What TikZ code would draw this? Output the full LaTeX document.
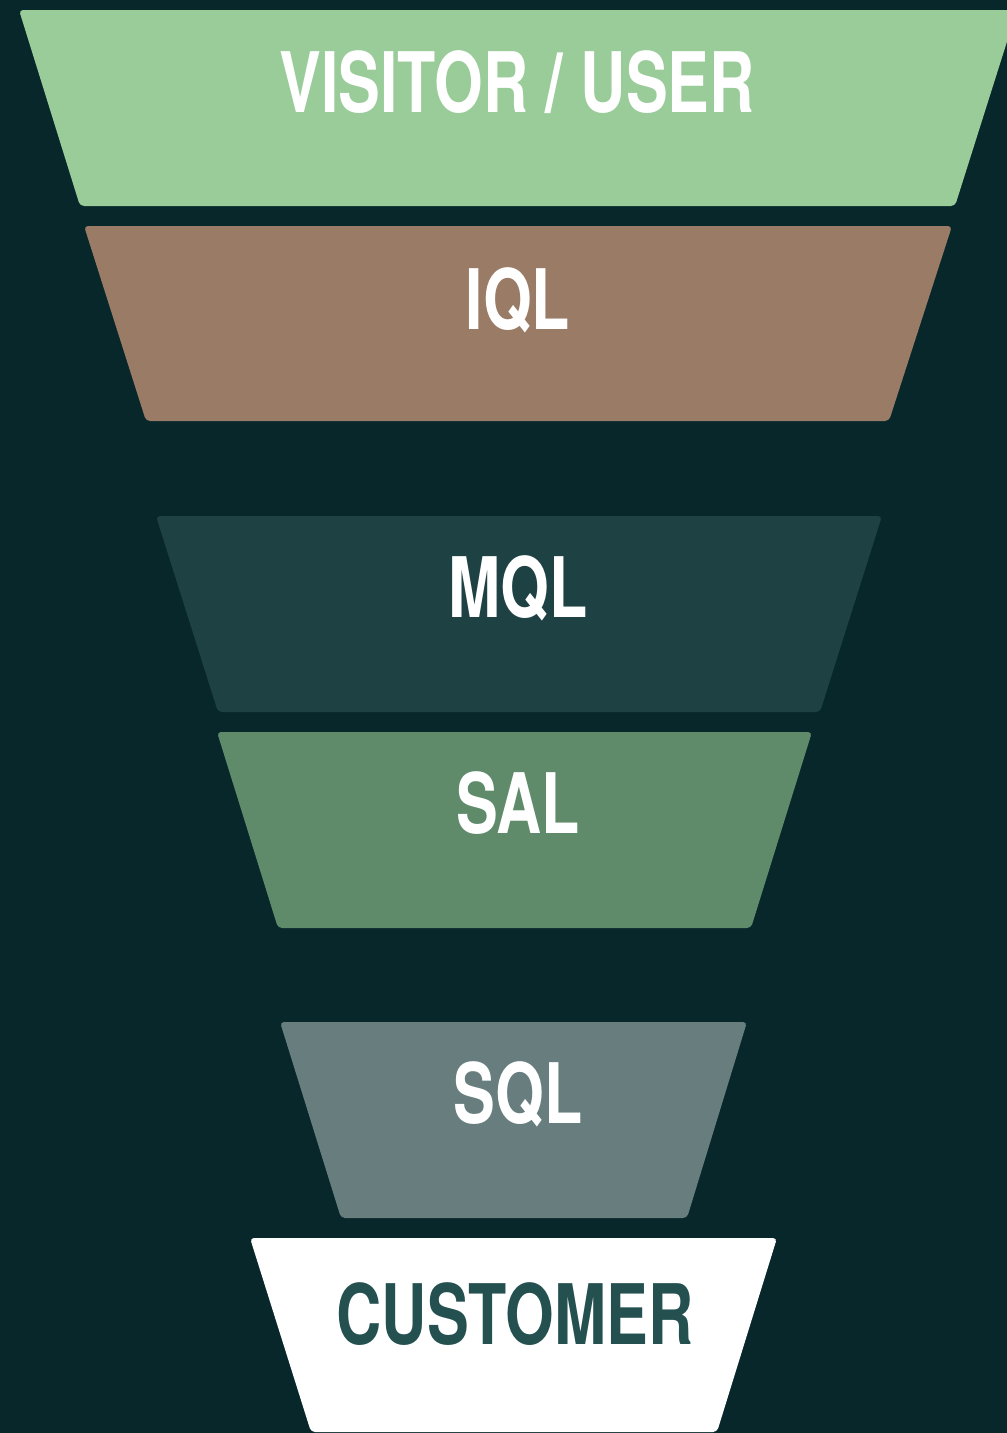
\documentclass[tikz,border=0pt]{standalone}
\usepackage{fontspec}
\setmainfont{TeX Gyre Heros}[FakeStretch=0.75]
\definecolor{bgc}{HTML}{07272B}
\definecolor{c1}{HTML}{99CC99}
\definecolor{c2}{HTML}{9A7B66}
\definecolor{c3}{HTML}{1E4244}
\definecolor{c4}{HTML}{5F8B6B}
\definecolor{c5}{HTML}{687E7E}
\definecolor{c6}{HTML}{FFFFFF}
\definecolor{txtdark}{HTML}{245050}
\begin{document}
\begin{tikzpicture}[x=1pt,y=-1pt,
  seg/.style={rounded corners=4pt},
  lbl/.style={anchor=base,inner sep=0pt,font=\fontsize{83.5}{90}\selectfont\bfseries,text=white}]
\fill[bgc] (0,0) rectangle (1007,1433);
\useasboundingbox (0,0) rectangle (1007,1433);
\begin{scope}
\clip (0,0) rectangle (1007,1433);
\fill[c1,seg] (19,10) -- (1017,10) -- (955,206) -- (80,206) -- cycle;
\fill[c2,seg] (84,226) -- (952,226) -- (889,421) -- (146,421) -- cycle;
\fill[c3,seg] (156,516) -- (882,516) -- (820,712) -- (218,712) -- cycle;
\fill[c4,seg] (217,732) -- (812,732) -- (751,928) -- (278,928) -- cycle;
\fill[c5,seg] (280,1022) -- (747,1022) -- (687,1218) -- (341,1218) -- cycle;
\fill[c6,seg] (250,1238) -- (777,1238) -- (717,1432) -- (311,1432) -- cycle;
\end{scope}
\node[lbl] (visitor) at (517,112) {VISITOR / USER};
\node[lbl] (iql) at (518,329) {IQL};
\node[lbl] (mql) at (518,617) {MQL};
\node[lbl] (sal) at (518,833) {SAL};
\node[lbl] (sql) at (518,1123) {SQL};
\node[lbl,text=txtdark] (customer) at (515,1344) {CUSTOMER};
\end{tikzpicture}
\end{document}
